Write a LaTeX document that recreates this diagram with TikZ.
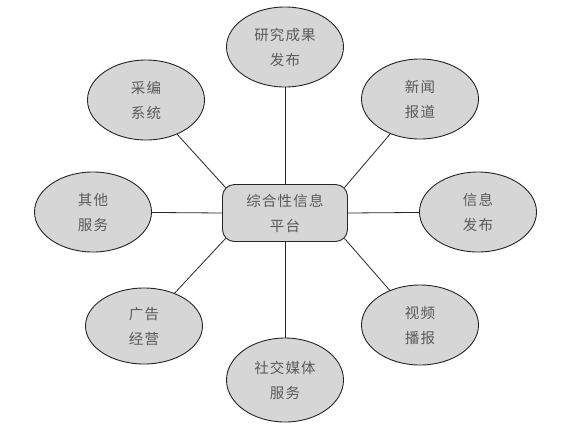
\documentclass[tikz,border=0pt]{standalone}
\usepackage{fontspec}
\newfontfamily\cjk[LetterSpace=8]{Noto Sans CJK SC}
\usetikzlibrary{shapes.geometric}
\definecolor{fillgray}{HTML}{D6D6D6}
\definecolor{textgray}{HTML}{5A5A5A}
\definecolor{edgegray}{HTML}{262626}
\begin{document}
\begin{tikzpicture}[x=1pt,y=-1pt,
  bubble/.style={ellipse,draw=edgegray,line width=0.9pt,fill=fillgray,inner sep=0pt,
    minimum width=117pt,minimum height=80pt,align=center,
    font=\cjk\fontsize{14.5}{25}\selectfont,text=textgray},
  hub/.style={rectangle,rounded corners=12pt,draw=edgegray,line width=0.9pt,fill=fillgray,
    minimum width=125pt,minimum height=57pt,align=center,inner sep=0pt,
    font=\cjk\fontsize{14.5}{25}\selectfont,text=textgray},
  link/.style={draw=edgegray,line width=0.8pt}]
\useasboundingbox (0,0) rectangle (575,429);
\fill[white] (0,0) rectangle (575,429);
% outer bubbles
\node[bubble] (top) at (285,47) {研究成果\\发布};
\node[bubble] (ul) at (146,100) {采编\\系统};
\node[bubble] (ur) at (420,99) {新闻\\报道};
\node[bubble] (l) at (93,212) {其他\\服务};
\node[bubble] (r) at (478,212) {信息\\发布};
\node[bubble,minimum height=76pt] (ll) at (144,326) {广告\\经营};
\node[bubble] (lr) at (420,325) {视频\\播报};
\node[bubble,minimum height=84pt] (bot) at (285,380) {社交媒体\\服务};
% hub
\node[hub] (c) at (285,213) {综合性信息\\平台};
% corner points on the hub's rounded corners
\path (c.north west) ++(3.5,3.5) coordinate (cnw);
\path (c.north east) ++(-3.5,3.5) coordinate (cne);
\path (c.south west) ++(3.5,-3.5) coordinate (csw);
\path (c.south east) ++(-3.5,-3.5) coordinate (cse);
% connectors
\draw[link] (c.north) -- (top);
\draw[link] (c.south) -- (bot);
\draw[link] (c.west) -- (l);
\draw[link] (c.east) -- (r);
\draw[link] (cnw) -- (ul);
\draw[link] (cne) -- (ur);
\draw[link] (csw) -- (ll);
\draw[link] (cse) -- (lr);
\end{tikzpicture}
\end{document}
